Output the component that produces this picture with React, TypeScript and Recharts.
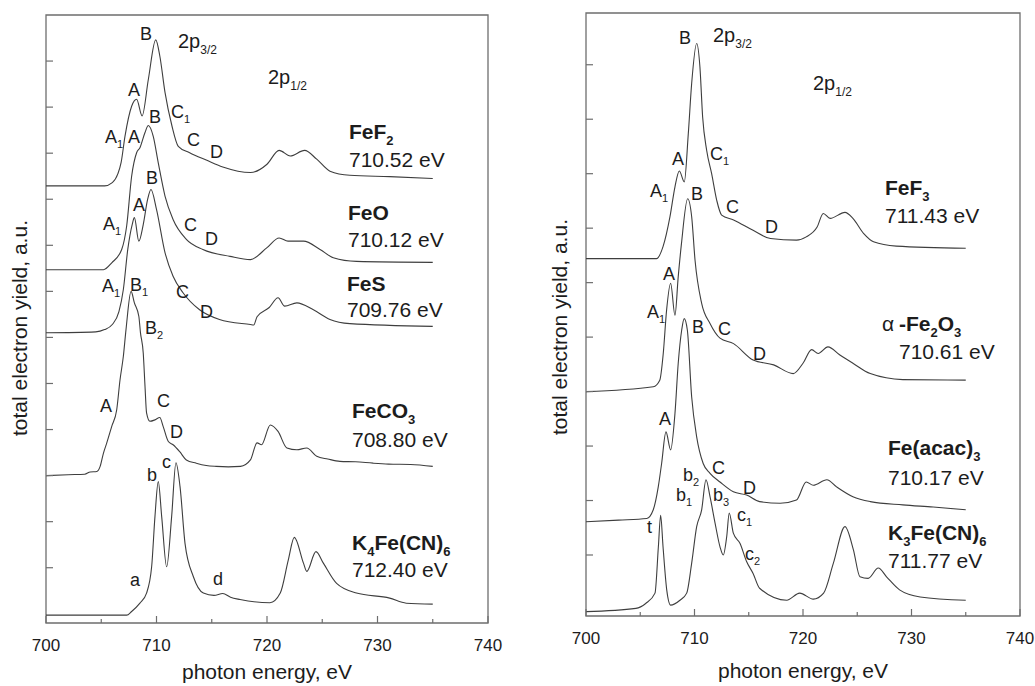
import React from 'react';
import { LineChart, Line, XAxis, YAxis, ReferenceArea } from 'recharts';

// photon energy axis (eV), shared by both panels
const energyDomain: [number, number] = [700, 740];
const energyTicks = [700, 705, 710, 715, 720, 725, 730, 735, 740];

// ---- left panel: Fe(II) compounds, stacked spectra (a.u.) ----
const feF2Energy = [700, 705.3, 706.0, 706.5, 706.8, 707.15, 707.75, 708.2, 708.7, 709.26, 709.93, 710.3, 710.77, 711.4, 711.97, 713.0, 714.5, 716.0, 718.5, 720.0, 721.1, 722.1, 723.4, 724.5, 725.7, 727.5, 731.1, 735];
const feF2Yield = [8.29, 8.29, 8.36, 8.55, 8.8, 9.37, 10.02, 10.17, 9.81, 10.6, 11.46, 11.11, 10.32, 9.59, 9.15, 9.01, 8.85, 8.7, 8.58, 8.76, 9.06, 8.94, 9.06, 8.87, 8.61, 8.52, 8.49, 8.45];

const feOEnergy = [700, 705.2, 705.95, 706.85, 707.3, 707.75, 708.2, 708.5, 708.96, 709.26, 709.7, 710.16, 710.77, 711.5, 712.7, 714.2, 716.65, 718.5, 720.0, 721.1, 721.9, 723.3, 724.8, 726.0, 728.1, 735];
const feOYield = [6.47, 6.47, 6.62, 6.91, 7.42, 8.5, 9.01, 9.12, 9.45, 9.6, 9.37, 8.79, 8.07, 7.56, 7.13, 6.91, 6.76, 6.69, 6.95, 7.16, 7.09, 7.09, 6.91, 6.73, 6.65, 6.63];

const feSEnergy = [700, 704.5, 705.3, 706.0, 706.6, 707.0, 707.4, 707.8, 708.0, 708.4, 708.8, 709.2, 709.5, 710.0, 710.77, 711.5, 712.4, 713.9, 715.7, 718.5, 718.8, 719.1, 720.2, 721.0, 721.6, 722.7, 724.2, 725.7, 727.5, 735];
const feSYield = [5.1, 5.12, 5.17, 5.28, 5.56, 6.04, 6.91, 7.45, 7.6, 7.09, 7.45, 8.0, 8.21, 7.78, 6.84, 6.33, 5.97, 5.6, 5.39, 5.28, 5.27, 5.45, 5.65, 5.86, 5.68, 5.75, 5.6, 5.39, 5.3, 5.24];

const feCO3Energy = [700, 702, 703.5, 704.0, 704.6, 704.9, 705.2, 705.5, 705.95, 706.4, 706.7, 707.0, 707.24, 707.7, 708.0, 708.4, 708.55, 708.8, 708.96, 709.1, 709.4, 709.86, 710.3, 710.6, 711.07, 711.5, 712.1, 712.7, 713.6, 714.5, 715.4, 716.5, 717.6, 718.5, 719.1, 719.5, 720.3, 721.0, 721.8, 722.7, 723.6, 724.5, 725.5, 726.6, 728.0, 729.6, 731.0, 733.0, 735];
const feCO3Yield = [2.0, 2.02, 2.03, 2.08, 2.09, 2.2, 2.49, 2.71, 3.07, 3.43, 4.08, 4.59, 5.17, 6.0, 5.75, 5.46, 5.1, 4.66, 3.94, 3.36, 3.18, 3.21, 3.26, 3.07, 2.74, 2.67, 2.52, 2.34, 2.27, 2.22, 2.2, 2.19, 2.2, 2.34, 2.71, 2.67, 3.1, 2.96, 2.6, 2.56, 2.6, 2.42, 2.36, 2.31, 2.3, 2.27, 2.25, 2.24, 2.2];

const k4Energy = [700, 707.3, 707.75, 708.5, 709.1, 709.56, 709.86, 710.16, 710.47, 710.92, 711.37, 711.76, 712.13, 712.58, 713.33, 714.24, 715.2, 716.0, 716.7, 717.56, 720.27, 721.2, 721.93, 722.47, 723.3, 723.6, 724.43, 725.1, 726.3, 728.1, 731.1, 732.6, 735];
const k4Yield = [-1.03, -1.03, -0.95, -0.77, -0.55, 0.02, 1.11, 1.87, 1.11, 0.02, 1.11, 2.28, 1.76, 0.53, -0.19, -0.55, -0.6, -0.56, -0.64, -0.69, -0.76, -0.55, 0.17, 0.66, 0.1, -0.08, 0.35, 0.1, -0.34, -0.55, -0.66, -0.77, -0.79];

// ---- right panel: Fe(III) compounds ----
const feF3Energy = [700, 706.5, 707.1, 707.74, 708.2, 708.6, 709.06, 709.43, 709.74, 710.2, 710.5, 710.75, 711.12, 711.58, 712.05, 712.5, 713.6, 715.4, 717.0, 719.4, 720.3, 721.3, 721.87, 722.5, 723.87, 724.6, 725.6, 726.5, 728.6, 735];
const feF3Yield = [5.44, 5.44, 5.66, 6.21, 6.76, 7.05, 6.85, 7.74, 8.66, 9.39, 8.96, 8.04, 7.43, 7.0, 6.51, 6.24, 6.15, 5.96, 5.81, 5.78, 5.84, 6.02, 6.27, 6.18, 6.29, 6.18, 5.9, 5.75, 5.67, 5.63];

const fe2O3Energy = [700, 706.2, 706.8, 707.12, 707.43, 707.8, 708.2, 708.5, 708.8, 709.37, 709.74, 710.05, 710.66, 711.43, 712.35, 713.6, 715.4, 717.3, 719.1, 720.0, 720.8, 721.4, 722.3, 723.4, 724.6, 726.2, 729.2, 735];
const fe2O3Yield = [3.0, 3.09, 3.21, 3.7, 4.5, 4.99, 4.4, 5.11, 5.72, 6.54, 6.21, 5.41, 4.62, 4.25, 3.98, 3.88, 3.58, 3.49, 3.33, 3.52, 3.77, 3.7, 3.82, 3.67, 3.52, 3.33, 3.22, 3.21];

const acacEnergy = [700, 703, 705.6, 706.2, 706.66, 706.97, 707.37, 707.8, 708.2, 708.5, 708.82, 709.05, 709.34, 709.74, 710.2, 710.8, 711.43, 712.35, 713.58, 714.8, 716.0, 717.9, 719.4, 720.3, 720.95, 722.2, 723.1, 724.6, 726.2, 729.2, 732, 735];
const acacYield = [0.61, 0.64, 0.67, 0.83, 1.25, 1.68, 2.26, 1.93, 2.6, 3.52, 4.13, 4.34, 4.13, 2.9, 2.17, 1.68, 1.5, 1.34, 1.16, 1.1, 0.98, 0.95, 1.01, 1.34, 1.28, 1.38, 1.25, 1.07, 0.98, 0.92, 0.88, 0.83];

const k3Energy = [700, 704.6, 705.5, 706.36, 706.67, 706.88, 707.1, 707.44, 707.8, 708.66, 709.28, 709.74, 710.2, 710.66, 711.06, 711.43, 711.9, 712.35, 712.65, 712.97, 713.2, 713.58, 714.2, 714.8, 715.4, 716.0, 718.5, 719.7, 720.95, 721.9, 722.8, 723.87, 724.64, 725.25, 726.0, 726.94, 727.7, 728.9, 730.8, 735];
const k3Yield = [-1.04, -0.98, -0.89, -0.7, 0.15, 0.73, 0.15, -0.64, -0.92, -0.83, -0.7, -0.15, 0.52, 0.83, 1.38, 1.07, 0.58, 0.15, 0.0, 0.34, 0.77, 0.4, 0.21, -0.12, -0.34, -0.61, -0.83, -0.7, -0.81, -0.7, -0.15, 0.52, 0.1, -0.4, -0.43, -0.24, -0.4, -0.64, -0.77, -0.83];

const leftYieldDomain: [number, number] = [-1.2, 12];
const leftYieldTicks = [0, 1, 2, 3, 4, 5, 6, 7, 8, 9, 10, 11];
const rightYieldDomain: [number, number] = [-1.12, 9.95];
const rightYieldTicks = [0, 1, 2, 3, 4, 5, 6, 7, 8, 9];

const FONT = '"Liberation Sans", Arial, Helvetica, sans-serif';
const INK = '#1c1c1c';
const CURVE = '#3e3e3e';
const FRAME = '#6e6e6e';

const toPoints = (energy: number[], tey: number[]) =>
  energy.map((e, i) => ({ energy: e, tey: tey[i] }));

const leftSpectra = [
  { name: 'FeF2', energy: feF2Energy, tey: feF2Yield },
  { name: 'FeO', energy: feOEnergy, tey: feOYield },
  { name: 'FeS', energy: feSEnergy, tey: feSYield },
  { name: 'FeCO3', energy: feCO3Energy, tey: feCO3Yield },
  { name: 'K4Fe(CN)6', energy: k4Energy, tey: k4Yield },
];

const rightSpectra = [
  { name: 'FeF3', energy: feF3Energy, tey: feF3Yield },
  { name: 'Fe2O3', energy: fe2O3Energy, tey: fe2O3Yield },
  { name: 'Fe(acac)3', energy: acacEnergy, tey: acacYield },
  { name: 'K3Fe(CN)6', energy: k3Energy, tey: k3Yield },
];

// inward ticks on the energy axis: long + label every 10 eV, short every 5 eV
const EnergyTick = (props: any) => {
  const { x, y, payload } = props;
  const major = payload.value % 10 === 0;
  return (
    <g>
      <line x1={x} y1={y} x2={x} y2={y - (major ? 7 : 4)} stroke={FRAME} strokeWidth={1.2} />
      {major && (
        <text x={x} y={y + 28} textAnchor="middle" fontFamily={FONT} fontSize={17} fill={INK}>
          {payload.value}
        </text>
      )}
    </g>
  );
};

// unlabeled inward ticks on the yield axis
const YieldTick = (props: any) => {
  const { x, y } = props;
  return <line x1={x} y1={y} x2={x + 7} y2={y} stroke={FRAME} strokeWidth={1.2} />;
};

type PanelProps = {
  spectra: { name: string; energy: number[]; tey: number[] }[];
  yDomain: [number, number];
  yTicks: number[];
  width: number;
  margin: { top: number; right: number; bottom: number; left: number };
  left: number;
};

function Panel({ spectra, yDomain, yTicks, width, margin, left }: PanelProps) {
  return (
    <div style={{ position: 'absolute', left, top: 0 }}>
      <LineChart width={width} height={686} margin={margin}>
        <XAxis
          type="number"
          dataKey="energy"
          domain={energyDomain}
          ticks={energyTicks}
          interval={0}
          allowDataOverflow
          axisLine={false}
          tickLine={false}
          tickSize={0}
          tickMargin={0}
          height={30}
          tick={<EnergyTick />}
        />
        <YAxis
          type="number"
          domain={yDomain}
          ticks={yTicks}
          interval={0}
          allowDataOverflow
          axisLine={false}
          tickLine={false}
          tickSize={0}
          tickMargin={0}
          width={10}
          tick={<YieldTick />}
        />
        <ReferenceArea
          x1={energyDomain[0]}
          x2={energyDomain[1]}
          y1={yDomain[0]}
          y2={yDomain[1]}
          fill="none"
          fillOpacity={0}
          stroke={FRAME}
          strokeWidth={1.3}
        />
        {spectra.map((s) => (
          <Line
            key={s.name}
            data={toPoints(s.energy, s.tey)}
            dataKey="tey"
            type="monotone"
            stroke={CURVE}
            strokeWidth={1.1}
            dot={false}
            isAnimationActive={false}
          />
        ))}
      </LineChart>
    </div>
  );
}

// text pieces: plain or subscript
type Seg = { t: string; sub?: boolean };

const Rich = ({ x, y, segs, size, bold }: { x: number; y: number; segs: Seg[]; size: number; bold?: boolean }) => {
  const subSize = Math.round(size * 0.62);
  const shift = Math.round(size * 0.28);
  let down = false;
  return (
    <text x={x} y={y} fontFamily={FONT} fontSize={size} fill={INK} fontWeight={bold ? 'bold' : 'normal'}>
      {segs.map((s, i) => {
        let dy = 0;
        if (s.sub && !down) { dy = shift; down = true; }
        else if (!s.sub && down) { dy = -shift; down = false; }
        return (
          <tspan key={i} dy={dy} fontSize={s.sub ? subSize : size}>
            {s.t}
          </tspan>
        );
      })}
    </text>
  );
};

// peak letters: [letter, subscript, x, y]
const peakLabels: [string, string, number, number][] = [
  ['B', '', 140, 40], ['A', '', 128, 96], ['C', '1', 171, 118], ['A', '1', 105, 143],
  ['A', '', 128, 143], ['B', '', 149, 123], ['C', '', 187, 146], ['D', '', 210, 158],
  ['B', '', 146, 184], ['A', '', 133, 211], ['A', '1', 103, 230], ['C', '', 184, 231],
  ['D', '', 205, 245], ['A', '1', 102, 292], ['B', '1', 130, 291], ['C', '', 176, 298],
  ['D', '', 200, 318], ['B', '2', 145, 334], ['A', '', 100, 412], ['C', '', 157, 407],
  ['D', '', 170, 438], ['b', '', 147, 481], ['c', '', 162, 468], ['a', '', 130, 586],
  ['d', '', 213, 585],
  ['B', '', 679, 44], ['A', '', 672, 165], ['C', '1', 710, 160], ['A', '1', 650, 197],
  ['B', '', 691, 200], ['C', '', 726, 213], ['D', '', 765, 233], ['A', '', 663, 280],
  ['A', '1', 647, 318], ['B', '', 692, 333], ['C', '', 718, 335], ['D', '', 753, 360],
  ['A', '', 659, 425], ['C', '', 712, 474], ['b', '2', 683, 481], ['D', '', 743, 494],
  ['b', '1', 676, 501], ['b', '3', 713, 501], ['c', '1', 737, 521], ['t', '', 647, 533],
  ['c', '2', 745, 560],
];

// compound names with their edge energies
const compoundLabels: { segs: Seg[]; energy: string; x: number; y: number; y2: number }[] = [
  { segs: [{ t: 'FeF' }, { t: '2', sub: true }], energy: '710.52 eV', x: 349, y: 139, y2: 167 },
  { segs: [{ t: 'FeO' }], energy: '710.12 eV', x: 348, y: 220, y2: 247 },
  { segs: [{ t: 'FeS' }], energy: '709.76 eV', x: 347, y: 291, y2: 317 },
  { segs: [{ t: 'FeCO' }, { t: '3', sub: true }], energy: '708.80 eV', x: 352, y: 418, y2: 447 },
  { segs: [{ t: 'K' }, { t: '4', sub: true }, { t: 'Fe(CN)' }, { t: '6', sub: true }], energy: '712.40 eV', x: 352, y: 550, y2: 577 },
  { segs: [{ t: 'FeF' }, { t: '3', sub: true }], energy: '711.43 eV', x: 885, y: 195, y2: 223 },
  { segs: [{ t: '-Fe' }, { t: '2', sub: true }, { t: 'O' }, { t: '3', sub: true }], energy: '710.61 eV', x: 899, y: 331, y2: 359 },
  { segs: [{ t: 'Fe(acac)' }, { t: '3', sub: true }], energy: '710.17 eV', x: 888, y: 455, y2: 485 },
  { segs: [{ t: 'K' }, { t: '3', sub: true }, { t: 'Fe(CN)' }, { t: '6', sub: true }], energy: '711.77 eV', x: 888, y: 540, y2: 568 },
];

const edgeLabels: { sub: string; x: number; y: number }[] = [
  { sub: '3/2', x: 178, y: 48 },
  { sub: '1/2', x: 268, y: 84 },
  { sub: '3/2', x: 713, y: 42 },
  { sub: '1/2', x: 813, y: 90 },
];

export default function App() {
  return (
    <div style={{ position: 'absolute', left: 0, top: 0, width: 1035, height: 686, background: '#fff' }}>
      <Panel
        spectra={leftSpectra}
        yDomain={leftYieldDomain}
        yTicks={leftYieldTicks}
        width={530}
        left={0}
        margin={{ top: 15, right: 42, bottom: 33, left: 36 }}
      />
      <Panel
        spectra={rightSpectra}
        yDomain={rightYieldDomain}
        yTicks={rightYieldTicks}
        width={515}
        left={520}
        margin={{ top: 13, right: 15, bottom: 40, left: 56 }}
      />
      <svg
        width={1035}
        height={686}
        style={{ position: 'absolute', left: 0, top: 0, pointerEvents: 'none' }}
      >
        {peakLabels.map(([l, s, x, y], i) => (
          <Rich key={i} x={x} y={y} size={18} segs={s ? [{ t: l }, { t: s, sub: true }] : [{ t: l }]} />
        ))}
        {edgeLabels.map((e, i) => (
          <Rich key={i} x={e.x} y={e.y} size={20} segs={[{ t: '2p' }, { t: e.sub, sub: true }]} />
        ))}
        {compoundLabels.map((c, i) => (
          <g key={i}>
            <Rich x={c.x} y={c.y} size={21} bold segs={c.segs} />
            <text x={c.x} y={c.y2} fontFamily={FONT} fontSize={21} fill={INK}>
              {c.energy}
            </text>
          </g>
        ))}
        <text x={882} y={331} fontFamily={FONT} fontSize={21} fill={INK}>α</text>
        <text x={267} y={679} textAnchor="middle" fontFamily={FONT} fontSize={21} fill={INK}>
          photon energy, eV
        </text>
        <text x={803} y={678} textAnchor="middle" fontFamily={FONT} fontSize={21} fill={INK}>
          photon energy, eV
        </text>
        <text x={27} y={328} transform="rotate(-90 27 328)" textAnchor="middle" fontFamily={FONT} fontSize={21} fill={INK}>
          total electron yield, a.u.
        </text>
        <text x={567} y={327} transform="rotate(-90 567 327)" textAnchor="middle" fontFamily={FONT} fontSize={21} fill={INK}>
          total electron yield, a.u.
        </text>
      </svg>
    </div>
  );
}
